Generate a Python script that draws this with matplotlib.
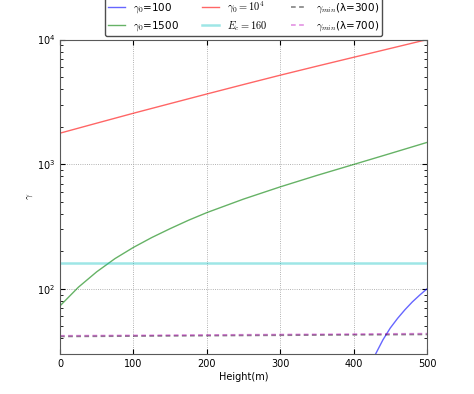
import numpy as np
import matplotlib
matplotlib.use("Agg")
import matplotlib.pyplot as plt

plt.rcParams["mathtext.fontset"] = "cm"
plt.rcParams["font.size"] = 7

# heights (m) and gamma values
h_blue = [425, 430, 440, 450, 460, 470, 480, 490, 500]
g_blue = [25, 30, 39, 48.5, 58, 68, 78.5, 89, 100]

h_green = [0, 25, 50, 75, 100, 125, 150, 175, 200, 250, 300, 350, 400, 450, 500]
g_green = [73, 103, 137, 175, 215, 258, 304, 355, 409, 525, 658, 813, 995, 1219, 1496]

h_red = [0, 50, 100, 150, 200, 250, 300, 350, 400, 450, 500]
g_red = [1775, 2135, 2565, 3065, 3660, 4360, 5180, 6120, 7210, 8490, 10000]

h_flat = [0, 250, 500]
e_c = [160, 160, 160]
gmin_300 = [41.5, 42.3, 43.1]
gmin_700 = [42.0, 42.8, 43.7]

fig = plt.figure(figsize=(4.74, 3.94), dpi=100)
ax = fig.add_axes([0.1266, 0.1015, 0.7742, 0.7980])

ax.plot(h_blue, g_blue, color="b", alpha=0.6, lw=1, label=r"$\gamma_0$=100")
ax.plot(h_green, g_green, color="g", alpha=0.6, lw=1, label=r"$\gamma_0$=1500")
ax.plot(h_red, g_red, color="r", alpha=0.6, lw=1, label=r"$\gamma_0=10^4$")
ax.plot(h_flat, e_c, color="c", alpha=0.38, lw=1.8, label=r"$E_c=160$")
ax.plot(h_flat, gmin_300, "k--", alpha=0.45, lw=1.3, dashes=(2.6, 1.9),
        label=r"$\gamma_{min}$(λ=300)")
ax.plot(h_flat, gmin_700, "m--", alpha=0.4, lw=1.3, dashes=(2.6, 1.9),
        label=r"$\gamma_{min}$(λ=700)")

ax.set_yscale("log")
ax.set_xlim(0, 500)
ax.set_ylim(30, 1e4)
ax.set_xlabel("Height(m)", labelpad=2)
ax.set_ylabel(r"$\gamma$", fontsize=7)
ax.yaxis.set_label_coords(-0.068, 0.5)
ax.grid(True, which="major", color="0.6", linestyle=":", lw=0.6)
ax.tick_params(which="both", direction="in", top=True, right=True)
for sp in ax.spines.values():
    sp.set_color("0.35")

leg = ax.legend(loc="lower center", bbox_to_anchor=(0.5, 1.0), ncol=3,
                fontsize=7.5, handlelength=1.6, columnspacing=2.2,
                labelspacing=0.35, borderpad=0.35,
                fancybox=True, framealpha=1, borderaxespad=0.3)
leg.get_frame().set_edgecolor("0.3")

fig.savefig("out.png", dpi=100)
